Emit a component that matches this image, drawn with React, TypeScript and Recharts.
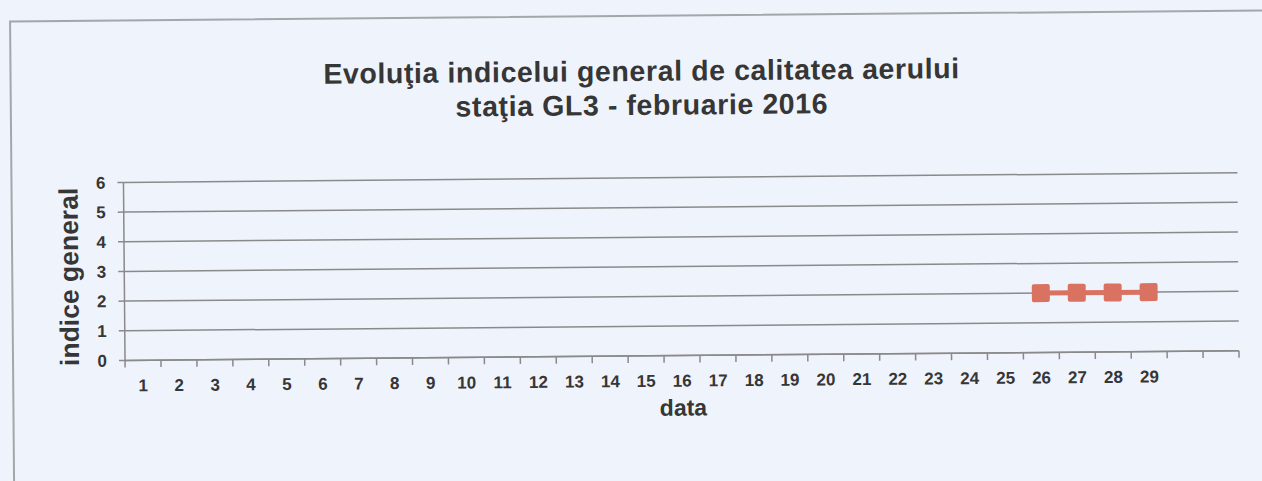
import React from 'react';
import {
  LineChart,
  Line,
  XAxis,
  YAxis,
  CartesianGrid,
} from 'recharts';

// ---- data ----
const days = [
  '1', '2', '3', '4', '5', '6', '7', '8', '9', '10',
  '11', '12', '13', '14', '15', '16', '17', '18', '19', '20',
  '21', '22', '23', '24', '25', '26', '27', '28', '29', '30', '31',
];
const tickLabels = [
  '1', '2', '3', '4', '5', '6', '7', '8', '9', '10',
  '11', '12', '13', '14', '15', '16', '17', '18', '19', '20',
  '21', '22', '23', '24', '25', '26', '27', '28', '29', '', '',
];
const indiceGeneral: (number | null)[] = [
  null, null, null, null, null, null, null, null, null, null,
  null, null, null, null, null, null, null, null, null, null,
  null, null, null, null, null, 2, 2, 2, 2, null, null,
];
const yTicks = [0, 1, 2, 3, 4, 5, 6];
const titleLines = [
  'Evoluţia indicelui general de calitatea aerului',
  'staţia GL3 - februarie 2016',
];
const xTitle = 'data';
const yTitle = 'indice general';

const data = days.map((d, i) => ({
  day: d,
  label: tickLabels[i],
  value: indiceGeneral[i],
}));

// ---- layout / style ----
const W = 1262;
const H = 481;
const MARGIN = { top: 178, right: 24, bottom: 95, left: 0 };
const Y_AXIS_W = 124;
const X_AXIS_H = 30;
const PLOT_W = W - MARGIN.left - MARGIN.right - Y_AXIS_W;
const STEP = PLOT_W / days.length;
const FONT = '"Liberation Sans", Arial, Helvetica, sans-serif';
const TEXT = '#363636';
const AXIS = '#8a8a8a';
const LINE = '#da7262';
const BG = '#eff3fb';

const XTick = (props: any) => {
  const { x, y, index } = props;
  const label = tickLabels[index] ?? '';
  const isLast = index === days.length - 1;
  return (
    <g>
      <line x1={x - STEP / 2} x2={x - STEP / 2} y1={y} y2={y + 7} stroke={AXIS} strokeWidth={1.5} />
      {isLast && (
        <line x1={x + STEP / 2} x2={x + STEP / 2} y1={y} y2={y + 7} stroke={AXIS} strokeWidth={1.5} />
      )}
      <text
        x={x}
        y={y + 31}
        textAnchor="middle"
        fontFamily={FONT}
        fontWeight="bold"
        fontSize={17}
        fill={TEXT}
      >
        {label}
      </text>
    </g>
  );
};

const SquareDot = (props: any) => {
  const { cx, cy, value } = props;
  if (value === null || value === undefined || cx == null || cy == null) return null;
  return <rect x={cx - 9} y={cy - 9} width={18} height={18} rx={2} fill={LINE} />;
};

export default function App() {
  return (
    <div
      style={{
        position: 'absolute',
        left: 0,
        top: 0,
        width: W,
        height: H,
        background: BG,
        overflow: 'hidden',
      }}
    >
      <div
        style={{
          position: 'absolute',
          left: 0,
          top: 0,
          width: W,
          height: H,
          transform: 'rotate(-0.5deg)',
          transformOrigin: '50% 50%',
        }}
      >
        <div
          style={{
            position: 'absolute',
            left: 11,
            top: 15,
            width: W + 20,
            height: H + 20,
            border: '2px solid #a4a6aa',
            boxSizing: 'border-box',
          }}
        />
        <svg
          width={W}
          height={H}
          style={{ position: 'absolute', left: 0, top: 0 }}
        >
          {titleLines.map((t, i) => (
            <text
              key={i}
              x={643}
              y={81 + i * 34}
              textAnchor="middle"
              fontFamily={FONT}
              fontWeight="bold"
              fontSize={28.5}
              letterSpacing={0.6}
              fill={TEXT}
            >
              {t}
            </text>
          ))}
          <text
            x={0}
            y={0}
            transform={`translate(78, 272) rotate(-90)`}
            textAnchor="middle"
            fontFamily={FONT}
            fontWeight="bold"
            fontSize={26.5}
            fill={TEXT}
          >
            {yTitle}
          </text>
          <text
            x={682}
            y={416}
            textAnchor="middle"
            fontFamily={FONT}
            fontWeight="bold"
            fontSize={23}
            fill={TEXT}
          >
            {xTitle}
          </text>
        </svg>
        <div style={{ position: 'absolute', left: 0, top: 0 }}>
          <LineChart width={W} height={H} data={data} margin={MARGIN}>
            <CartesianGrid vertical={false} stroke={AXIS} strokeWidth={1.5} />
            <XAxis
              dataKey="day"
              interval={0}
              height={X_AXIS_H}
              padding={{ left: STEP / 2, right: STEP / 2 }}
              tickLine={false}
              tickSize={0}
              tickMargin={0}
              axisLine={{ stroke: AXIS, strokeWidth: 1.5 }}
              tick={<XTick />}
            />
            <YAxis
              width={Y_AXIS_W}
              domain={[0, 6]}
              ticks={yTicks}
              interval={0}
              tickSize={6}
              tickMargin={12}
              tickLine={{ stroke: AXIS, strokeWidth: 1.5 }}
              axisLine={{ stroke: AXIS, strokeWidth: 1.5 }}
              tick={{ fill: TEXT, fontSize: 17, fontWeight: 'bold', fontFamily: FONT }}
            />
            <YAxis
              yAxisId="right"
              orientation="right"
              width={0}
              domain={[0, 6]}
              tick={false}
              tickLine={false}
              axisLine={{ stroke: AXIS, strokeWidth: 1.5 }}
            />
            <Line
              type="linear"
              dataKey="value"
              stroke={LINE}
              strokeWidth={5}
              dot={<SquareDot />}
              activeDot={false}
              connectNulls={false}
              isAnimationActive={false}
            />
          </LineChart>
        </div>
      </div>
    </div>
  );
}
